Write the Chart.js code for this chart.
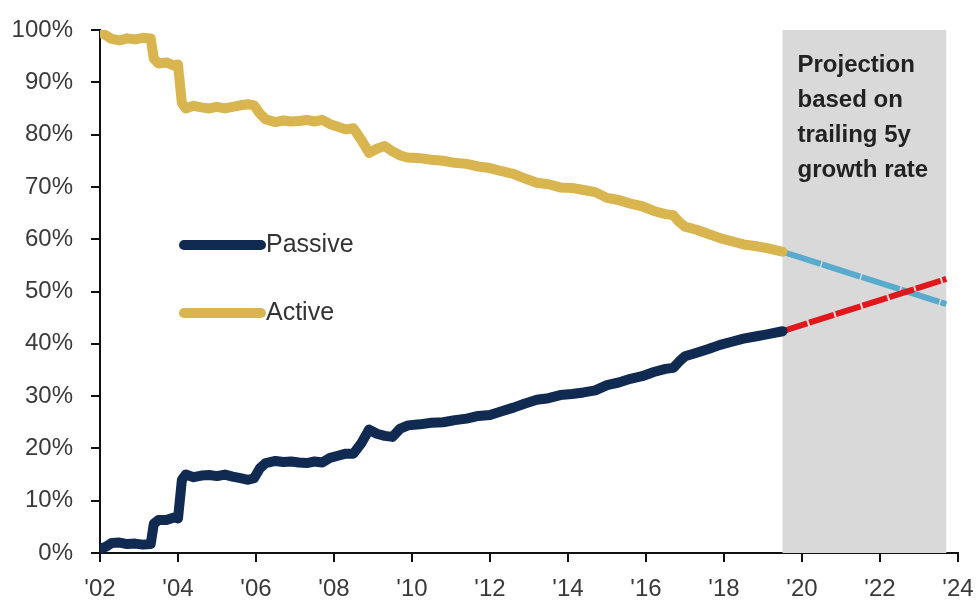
<!DOCTYPE html>
<html>
<head>
<meta charset="utf-8">
<script src="https://cdn.jsdelivr.net/npm/chart.js@4.4.1/dist/chart.umd.min.js"></script>
<style>
  html, body { margin: 0; padding: 0; background: #fff; }
  #wrap { width: 978px; height: 603px; }
</style>
</head>
<body>
<div id="wrap"><canvas id="c" width="978" height="603"></canvas></div>
<script>
// Share of fund assets, fractional year -> percent
const years = [
  2002.0, 2002.15, 2002.3, 2002.5, 2002.7, 2002.9, 2003.1, 2003.3, 2003.38, 2003.5,
  2003.7, 2003.9, 2004.0, 2004.1, 2004.2, 2004.4, 2004.6, 2004.8, 2005.0, 2005.2,
  2005.4, 2005.6, 2005.8, 2005.95, 2006.1, 2006.25, 2006.5, 2006.7, 2006.9, 2007.1,
  2007.3, 2007.5, 2007.7, 2007.9, 2008.1, 2008.3, 2008.5, 2008.7, 2008.9, 2009.1,
  2009.3, 2009.5, 2009.7, 2009.9, 2010.2, 2010.5, 2010.8, 2011.1, 2011.4, 2011.7,
  2012.0, 2012.3, 2012.6, 2012.9, 2013.2, 2013.5, 2013.8, 2014.1, 2014.4, 2014.7,
  2015.0, 2015.3, 2015.6, 2015.9, 2016.2, 2016.5, 2016.7, 2016.85, 2017.0, 2017.3,
  2017.6, 2017.9, 2018.2, 2018.5, 2018.8, 2019.1, 2019.5
];

const activeShare = [
  99.5, 99.0, 98.3, 98.0, 98.4, 98.2, 98.5, 98.4, 94.5, 93.6,
  93.8, 93.2, 93.4, 86.0, 85.0, 85.5, 85.2, 85.0, 85.3, 85.0,
  85.3, 85.6, 85.8, 85.6, 84.0, 82.9, 82.4, 82.7, 82.5, 82.6,
  82.8, 82.5, 82.8, 82.0, 81.5, 81.0, 81.2, 79.0, 76.5, 77.3,
  77.8, 76.8, 76.0, 75.6, 75.5, 75.2, 75.0, 74.6, 74.4, 73.9,
  73.6, 73.0, 72.5, 71.6, 70.8, 70.5, 69.9, 69.8, 69.4, 69.0,
  67.9, 67.5, 66.8, 66.3, 65.4, 64.8, 64.6, 63.3, 62.4, 61.8,
  61.0, 60.2, 59.6, 59.0, 58.7, 58.3, 57.6
];

const passiveShare = [
  0.8, 1.2, 1.9, 2.0, 1.7, 1.8, 1.6, 1.7, 5.6, 6.3,
  6.3, 6.8, 6.6, 14.0, 15.0, 14.5, 14.8, 14.9, 14.7, 15.0,
  14.6, 14.3, 14.0, 14.3, 16.2, 17.2, 17.6, 17.4, 17.5, 17.3,
  17.2, 17.5, 17.3, 18.2, 18.6, 19.0, 19.0, 21.0, 23.6, 22.8,
  22.4, 22.2, 23.8, 24.4, 24.6, 24.9, 25.0, 25.4, 25.7, 26.2,
  26.4, 27.1, 27.8, 28.6, 29.3, 29.6, 30.2, 30.4, 30.7, 31.1,
  32.1, 32.6, 33.3, 33.8, 34.6, 35.2, 35.4, 36.6, 37.6, 38.3,
  39.0, 39.8, 40.4, 41.0, 41.4, 41.8, 42.4
];

// Projection (trailing 5y growth rate)
const projYears = [2019.5, 2023.7];
const activeProj = [57.6, 47.6];
const passiveProj = [42.4, 52.4];

// Axis ticks
const xTickYears = [2002, 2004, 2006, 2008, 2010, 2012, 2014, 2016, 2018, 2020, 2022, 2024];
const xTickLabels = ["'02", "'04", "'06", "'08", "'10", "'12", "'14", "'16", "'18", "'20", "'22", "'24"];
const yTickValues = [0, 10, 20, 30, 40, 50, 60, 70, 80, 90, 100];
const yTickLabels = ["0%", "10%", "20%", "30%", "40%", "50%", "60%", "70%", "80%", "90%", "100%"];

const projectionNote = ["Projection", "based on", "trailing 5y", "growth rate"];
const legendLabels = ["Passive", "Active"];

const NAVY = '#102a52';
const GOLD = '#d8b54e';
const LIGHT_BLUE = '#58abcc';
const RED = '#e3161c';
const SHADE = '#d9d9d9';

const toPoints = (xs, ys) => xs.map((x, i) => ({ x: x, y: ys[i] }));

const shadePlugin = {
  id: 'projectionShade',
  beforeDatasetsDraw(chart) {
    const { ctx, chartArea, scales } = chart;
    const x0 = scales.x.getPixelForValue(projYears[0]);
    const x1 = scales.x.getPixelForValue(projYears[1]);
    ctx.save();
    ctx.fillStyle = SHADE;
    ctx.fillRect(x0, chartArea.top, x1 - x0, chartArea.bottom - chartArea.top);
    ctx.restore();
  },
  afterDatasetsDraw(chart) {
    const { ctx, chartArea, scales } = chart;
    const x0 = scales.x.getPixelForValue(projYears[0]);
    ctx.save();
    // projection note
    ctx.fillStyle = '#222';
    ctx.font = 'bold 24px "Liberation Sans", Arial, sans-serif';
    ctx.textAlign = 'left';
    ctx.textBaseline = 'alphabetic';
    projectionNote.forEach((line, i) => {
      ctx.fillText(line, x0 + 15, chartArea.top + 42 + i * 35);
    });
    // legend
    const colors = [NAVY, GOLD];
    const rows = [245, 313];
    ctx.lineCap = 'round';
    ctx.lineWidth = 10;
    legendLabels.forEach((label, i) => {
      ctx.strokeStyle = colors[i];
      ctx.beginPath();
      ctx.moveTo(184, rows[i]);
      ctx.lineTo(261, rows[i]);
      ctx.stroke();
      ctx.fillStyle = '#333';
      ctx.font = '25px "Liberation Sans", Arial, sans-serif';
      ctx.textBaseline = 'middle';
      ctx.fillText(label, 266, rows[i]);
    });
    ctx.restore();
  }
};

const lineStyle = {
  pointRadius: 0,
  tension: 0,
  borderJoinStyle: 'round',
  fill: false
};

new Chart(document.getElementById('c'), {
  type: 'line',
  data: {
    datasets: [
      Object.assign({ label: 'Passive', data: toPoints(years, passiveShare), borderColor: NAVY, borderWidth: 10, borderCapStyle: 'round' }, lineStyle),
      Object.assign({ label: 'Active', data: toPoints(years, activeShare), borderColor: GOLD, borderWidth: 10, borderCapStyle: 'round' }, lineStyle),
      Object.assign({ label: 'Passive (projection)', data: toPoints(projYears, passiveProj), borderColor: RED, borderWidth: 6, borderDash: [26, 2], borderCapStyle: 'butt' }, lineStyle),
      Object.assign({ label: 'Active (projection)', data: toPoints(projYears, activeProj), borderColor: LIGHT_BLUE, borderWidth: 6, borderDash: [40, 1.5], borderCapStyle: 'butt' }, lineStyle)
    ]
  },
  options: {
    responsive: false,
    animation: false,
    devicePixelRatio: 1,
    layout: { padding: { top: 30, right: 20, left: 0, bottom: 0 } },
    plugins: {
      legend: { display: false },
      tooltip: { enabled: false }
    },
    scales: {
      x: {
        type: 'linear',
        min: 2002,
        max: 2024,
        afterBuildTicks(scale) { scale.ticks = xTickYears.map(v => ({ value: v })); },
        afterFit(scale) {
          scale.height = 50;
          scale.paddingLeft = 0;
          scale.paddingRight = 0;
        },
        ticks: {
          autoSkip: false,
          maxRotation: 0,
          padding: 13,
          color: '#3a3a3a',
          font: { family: '"Liberation Sans", Arial, sans-serif', size: 24 },
          callback(value) { const i = xTickYears.indexOf(value); return i >= 0 ? xTickLabels[i] : ''; }
        },
        grid: { drawOnChartArea: false, drawTicks: true, tickLength: 9, color: '#111', lineWidth: 2 },
        border: { display: true, color: '#111', width: 2 }
      },
      y: {
        min: 0,
        max: 100,
        afterBuildTicks(scale) { scale.ticks = yTickValues.map(v => ({ value: v })); },
        afterFit(scale) {
          scale.width = 100;
          scale.paddingTop = 0;
          scale.paddingBottom = 0;
        },
        ticks: {
          padding: 18,
          color: '#3a3a3a',
          font: { family: '"Liberation Sans", Arial, sans-serif', size: 24 },
          callback(value) { const i = yTickValues.indexOf(value); return i >= 0 ? yTickLabels[i] : ''; }
        },
        grid: { drawOnChartArea: false, drawTicks: true, tickLength: 9, color: '#111', lineWidth: 2 },
        border: { display: true, color: '#111', width: 2 }
      }
    }
  },
  plugins: [shadePlugin]
});
</script>
</body>
</html>
